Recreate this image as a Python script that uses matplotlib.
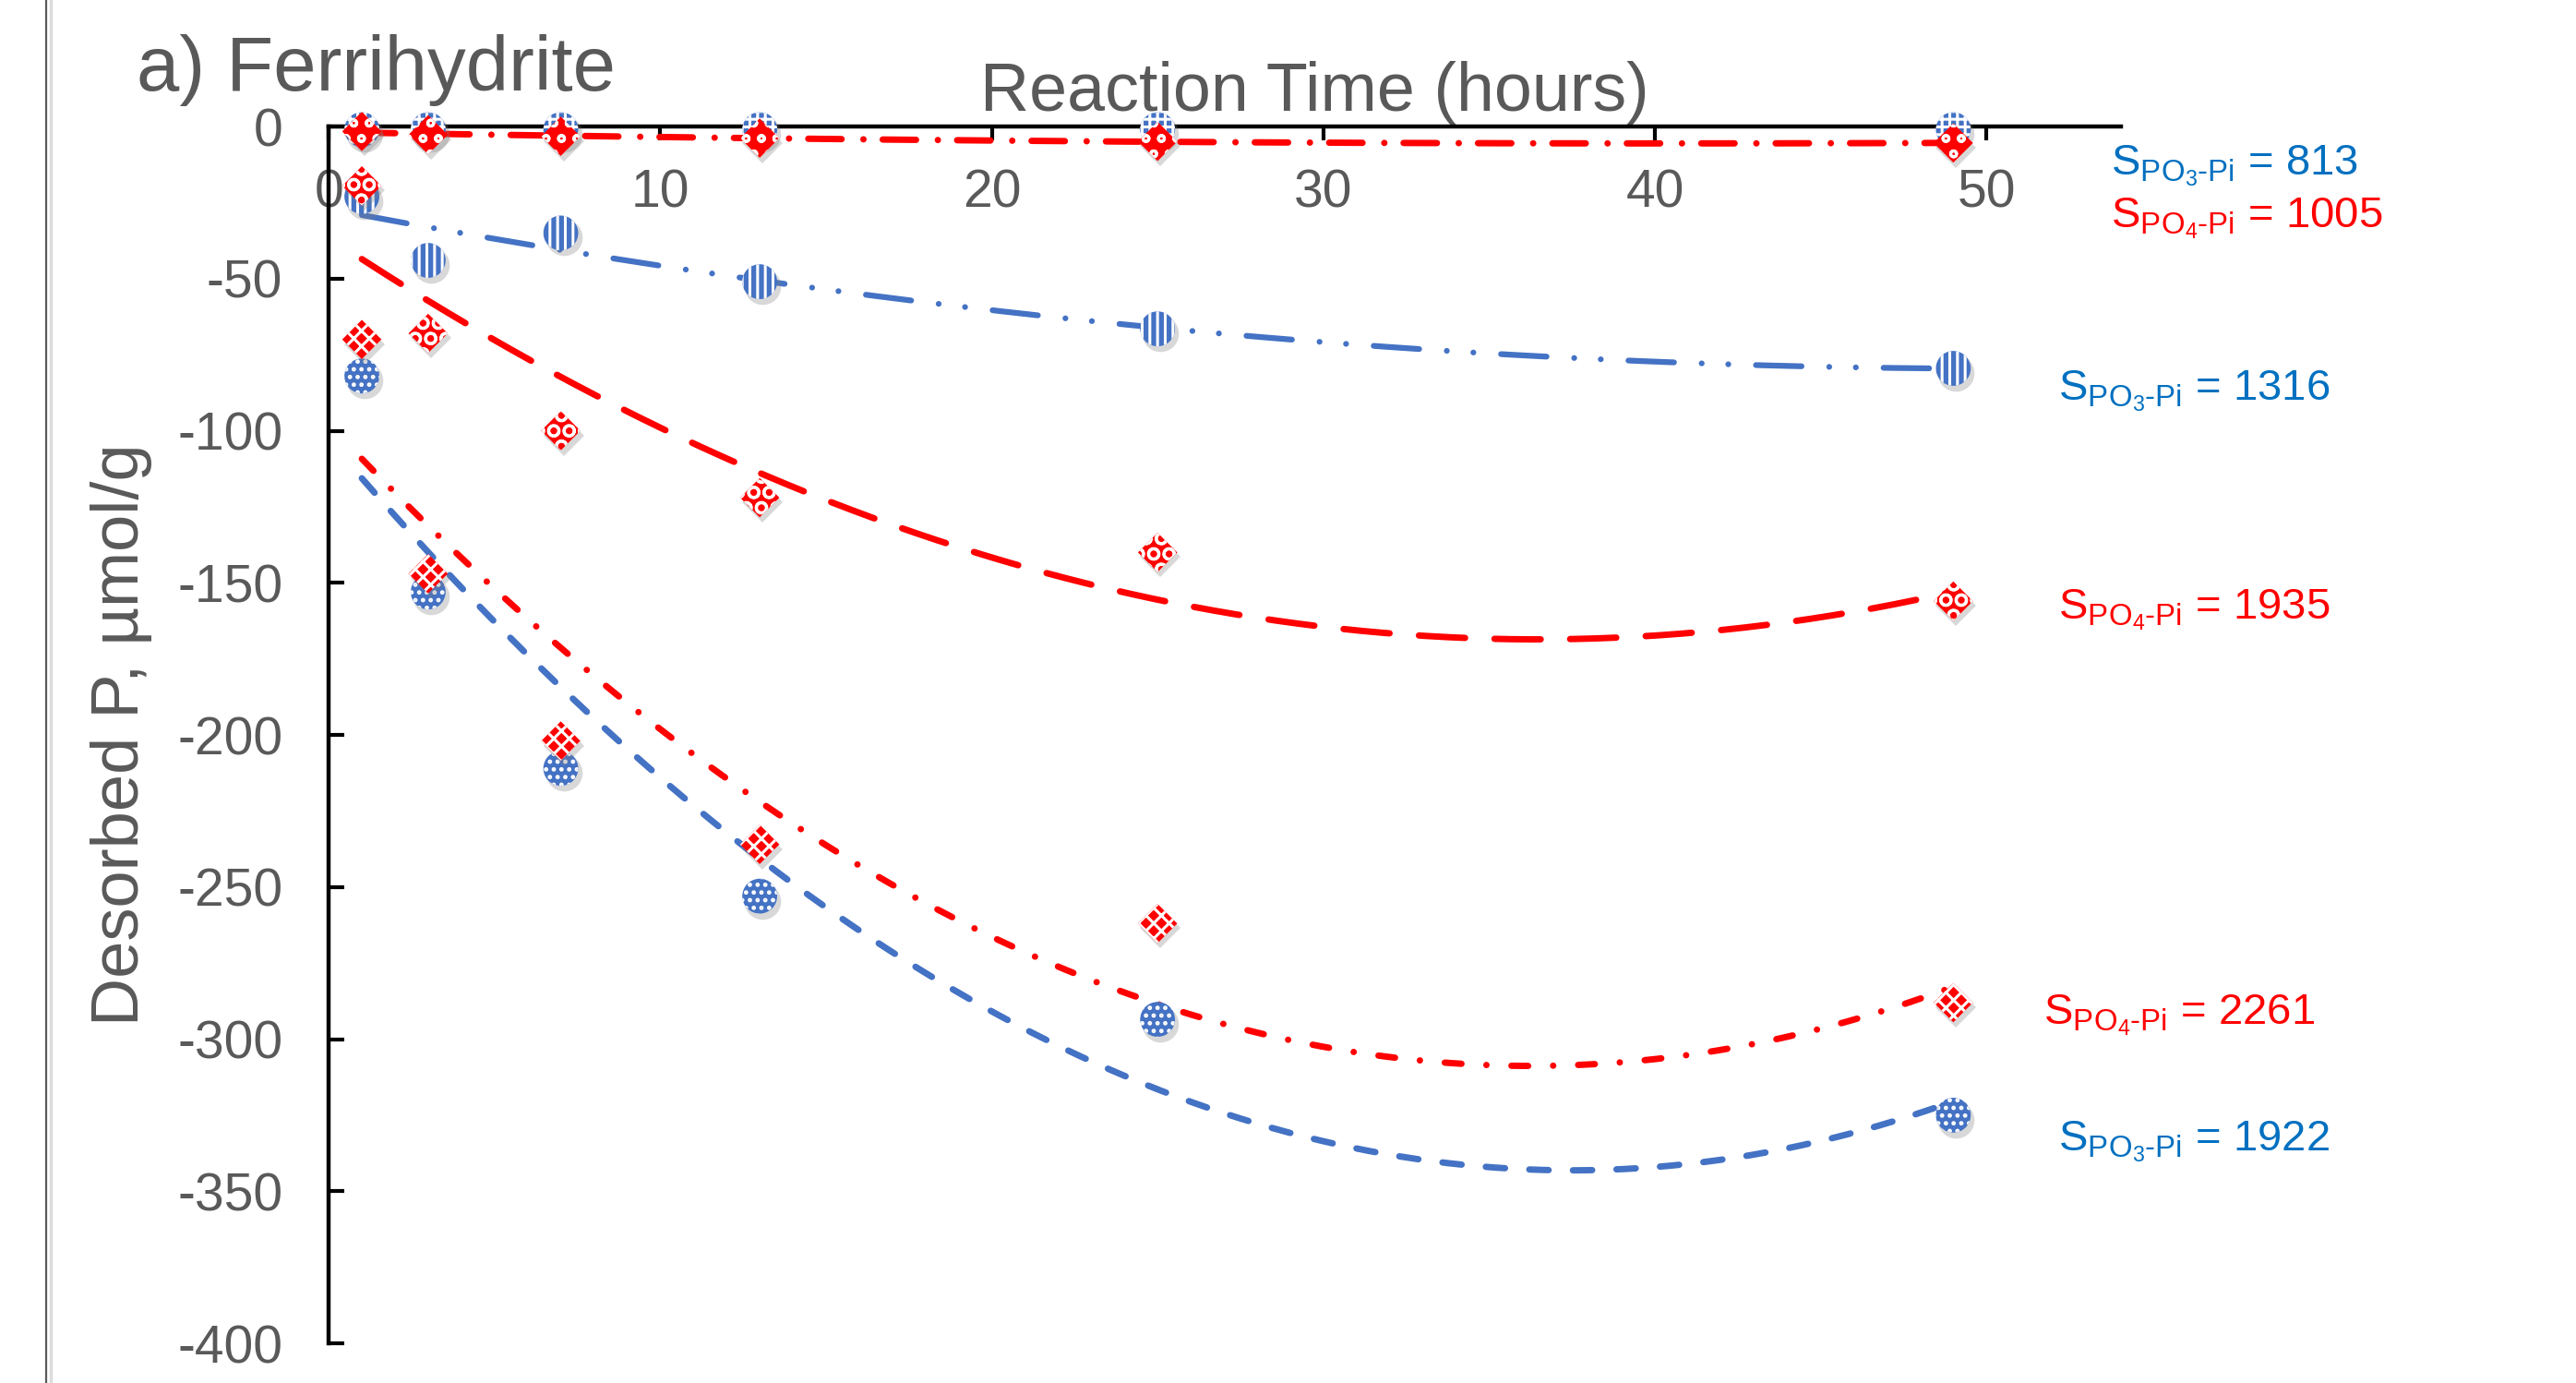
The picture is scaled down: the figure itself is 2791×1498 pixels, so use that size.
import numpy as np
import matplotlib.pyplot as plt
from matplotlib.lines import Line2D
from matplotlib.transforms import offset_copy

plt.rcParams['font.family'] = ['Liberation Sans', 'DejaVu Sans']
plt.rcParams['mathtext.fontset'] = 'custom'
plt.rcParams['mathtext.rm'] = 'Liberation Sans'
plt.rcParams['axes.unicode_minus'] = False
plt.rcParams['hatch.linewidth'] = 2.2

# data (reaction time in hours, desorbed P in umol/g)
hours = [1, 3, 7, 13, 25, 49]

po3_813 = [-1, -1, -1, -1, -1, -1]
po4_1005 = [-1.6, -2.7, -3.2, -3.8, -4.9, -5.4]
po3_1316 = [-23, -44, -35, -51, -66.5, -79.5]
po4_1935 = [-19.5, -68, -100, -122, -140, -156]
po4_2261 = [-70, -147, -202, -236, -262, -288]
po3_1922 = [-82, -153, -211, -253, -293.5, -325]

x_ticks = [0, 10, 20, 30, 40, 50]
y_ticks = [0, -50, -100, -150, -200, -250, -300, -350, -400]

BLUE = '#4472C4'
BLUE_TXT = '#0070C0'
RED = '#FF0000'
GREY = '#595959'

# (values, marker, hatch, colour, trend dashes, trend lw, label, text colour, text pos)
series = [
    (po3_813, 'o', '++', BLUE, None, 0, r'$\mathregular{S_{PO_{3}\text{-}Pi}}$ = 813', BLUE_TXT, (0.8195, 0.8735)),
    (po3_1316, 'o', '||', BLUE, (0, (7.9, 4.8, 0.01, 4.6, 0.01, 4.8)), 4.5, r'$\mathregular{S_{PO_{3}\text{-}Pi}}$ = 1316', BLUE_TXT, (0.7991, 0.7107)),
    (po3_1922, 'o', '..', BLUE, (0, (3.0, 3.8)), 5, r'$\mathregular{S_{PO_{3}\text{-}Pi}}$ = 1922', BLUE_TXT, (0.7991, 0.1679)),
    (po4_1005, 'D', 'o', RED, (0, (5.2, 3.4, 0.01, 3.0)), 5, r'$\mathregular{S_{PO_{4}\text{-}Pi}}$ = 1005', RED, (0.8195, 0.8355)),
    (po4_1935, 'D', 'O', RED, (0, (7.2, 4.6)), 5, r'$\mathregular{S_{PO_{4}\text{-}Pi}}$ = 1935', RED, (0.7991, 0.5527)),
    (po4_2261, 'D', 'xx', RED, (0, (2.6, 3.9, 0.01, 3.9)), 5, r'$\mathregular{S_{PO_{4}\text{-}Pi}}$ = 2261', RED, (0.7934, 0.2593)),
]

fig = plt.figure(figsize=(27.91, 14.98), dpi=100)
ax = fig.add_axes([0.1276, 0.0287, 0.6958, 0.8798])

xs = np.linspace(hours[0], hours[-1], 300)
shadow_tr = offset_copy(ax.transData, fig=fig, x=3, y=-5, units='dots')

for vals, mk, hatch, col, dashes, lw, label, tcol, pos in series:
    # Excel style 2nd order polynomial trend line
    if dashes is not None:
        coef = np.polyfit(hours, vals, 2)
        ax.plot(xs, np.polyval(coef, xs), color=col, lw=lw, linestyle=dashes,
                dash_capstyle='round', zorder=2)

for vals, mk, hatch, col, dashes, lw, label, tcol, pos in series:
    z = 4 if mk == 'D' else 3
    size = 470 if mk == 'D' else 740
    ms = 22.5 if mk == 'D' else 28.5
    ax.plot(hours, vals, mk, ms=ms, color='#7f7f7f', alpha=0.3, mew=0,
            transform=shadow_tr, clip_on=False, zorder=z)
    ax.scatter(hours, vals, s=size, marker=mk, facecolor=col, edgecolor='white',
               hatch=hatch, linewidths=0, clip_on=False, zorder=z)
    fig.text(pos[0], pos[1], label, color=tcol, fontsize=34, ha='left', va='baseline')

ax.set_xlim(0, 54.06)
ax.set_ylim(-400, 0)
ax.set_xticks(x_ticks)
ax.set_yticks(y_ticks)

ax.spines['top'].set_visible(False)
ax.spines['right'].set_visible(False)
ax.spines['bottom'].set_position(('data', 0))
for s in ['left', 'bottom']:
    ax.spines[s].set_linewidth(3.2)
    ax.spines[s].set_color('black')
    ax.spines[s].set_zorder(2.5)

ax.tick_params(axis='x', direction='out', length=11, width=3, pad=22,
               labelsize=41, labelcolor=GREY)
ax.tick_params(axis='y', direction='in', length=12, width=3, pad=36,
               labelsize=41, labelcolor=GREY)

ax.xaxis.set_label_position('top')
ax.set_xlabel('Reaction Time (hours)', fontsize=53, color=GREY, va='center')
ax.xaxis.set_label_coords(0.55, 1.028)
ax.set_ylabel('Desorbed P, µmol/g', fontsize=52, color=GREY, va='center')
ax.yaxis.set_label_coords(-0.1156, 0.5)

fig.text(0.053, 0.949, 'a) Ferrihydrite', fontsize=60, color=GREY, ha='left', va='center')

# left page border from the original cut-out
fig.add_artist(Line2D([0.0179, 0.0179], [0, 1], color='#5a5a5a', lw=1.6))
fig.add_artist(Line2D([0.0197, 0.0197], [0, 1], color='#dcdcdc', lw=2.5))

fig.savefig('out.png', dpi=100, facecolor='white')
